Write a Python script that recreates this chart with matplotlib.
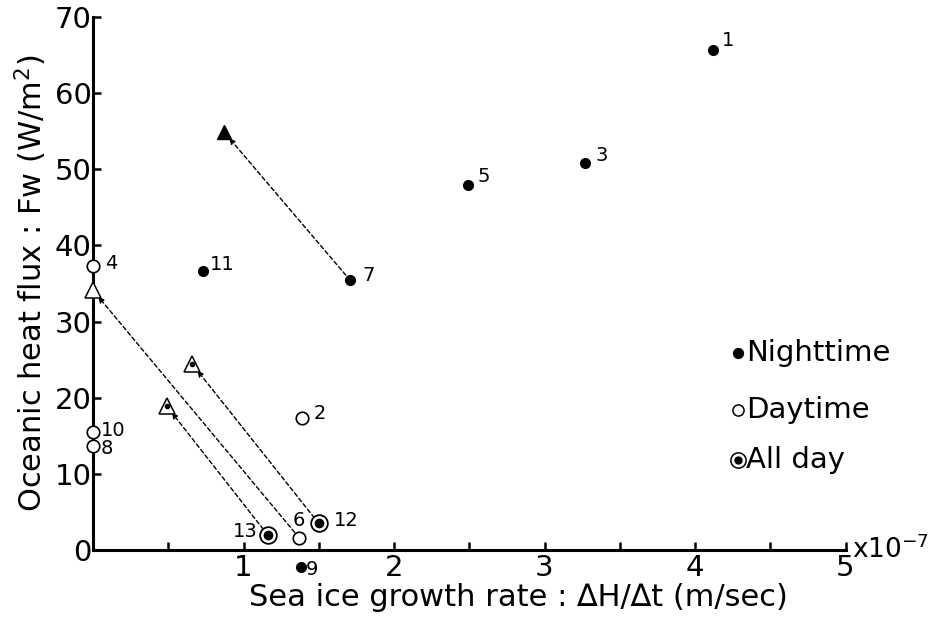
import matplotlib.pyplot as plt

# --- data (x in 1e-7 m/sec, y in W/m2) ---
night_x = [4.12, 3.27, 2.49, 1.71, 0.73, 1.38]
night_y = [65.7, 50.8, 48.0, 35.4, 36.6, -2.2]
night_id = ['1', '3', '5', '7', '11', '9']

day_x = [1.39, 0.0, 1.37, 0.0, 0.0]
day_y = [17.3, 37.3, 1.6, 13.7, 15.5]
day_id = ['2', '4', '6', '8', '10']

allday_x = [1.50, 1.16]
allday_y = [3.5, 2.0]
allday_id = ['12', '13']

# corrected points (triangles): filled <- 7, open <- 6, dotted <- 12, 13
tri_filled = (0.87, 54.9)
tri_open = (0.0, 34.1)
tri_dot_x = [0.66, 0.49]
tri_dot_y = [24.4, 18.9]

# arrows: start point -> triangle
arrow_from = [(1.71, 35.4), (1.37, 1.6), (1.50, 3.5), (1.16, 2.0)]
arrow_to = [tri_filled, tri_open, (0.66, 24.4), (0.49, 18.9)]

# label offsets in pixels (dx, dy, ha)
offs = {'1': (9, 9, 'left'), '3': (10, 8, 'left'), '5': (10, 8, 'left'),
        '7': (12, 5, 'left'), '11': (7, 7, 'left'), '4': (12, 2, 'left'),
        '2': (11, 5, 'left'), '10': (8, 1, 'left'), '8': (8, -3, 'left'),
        '13': (-10, 3, 'right'), '6': (0, 17, 'center'), '12': (15, 3, 'left'),
        '9': (5, -3, 'left')}

plt.rcParams['font.family'] = 'DejaVu Sans'

fig = plt.figure(figsize=(9.36, 6.17), dpi=100)
ax = fig.add_axes([93 / 936, 67 / 617, 752.5 / 936, 533 / 617])

# arrows
for (x0, y0), (x1, y1) in zip(arrow_from, arrow_to):
    ax.annotate('', xy=(x1, y1), xytext=(x0, y0),
                arrowprops=dict(arrowstyle='-|>', linestyle=(0, (3, 2)), lw=1,
                                color='black', shrinkA=5, shrinkB=6,
                                mutation_scale=8))

ax.plot(night_x, night_y, 'o', color='black', ms=7, clip_on=False, zorder=3)
ax.plot(day_x, day_y, 'o', mfc='white', mec='black', mew=1.2, ms=9,
        clip_on=False, zorder=3)
ax.plot(allday_x, allday_y, 'o', mfc='white', mec='black', mew=1.3, ms=12,
        clip_on=False, zorder=3)
ax.plot(allday_x, allday_y, 'o', color='black', ms=6, clip_on=False, zorder=4)

ax.plot(*tri_filled, '^', color='black', ms=10, clip_on=False, zorder=3)
ax.plot(*tri_open, '^', mfc='white', mec='black', mew=1.1, ms=11,
        clip_on=False, zorder=3)
ax.plot(tri_dot_x, tri_dot_y, '^', mfc='white', mec='black', mew=1.1, ms=11,
        clip_on=False, zorder=3)
ax.plot(tri_dot_x, tri_dot_y, 'o', color='black', ms=3, clip_on=False, zorder=4)

for xs, ys, ids in [(night_x, night_y, night_id), (day_x, day_y, day_id),
                    (allday_x, allday_y, allday_id)]:
    for x, y, s in zip(xs, ys, ids):
        dx, dy, ha = offs[s]
        ax.annotate(s, (x, y), xytext=(dx * 0.72, dy * 0.72),
                    textcoords='offset points', ha=ha, va='center',
                    fontsize=14, annotation_clip=False)

# legend written as text
leg = [('o', 'black', 'black', 7, 'Nighttime', 0.370),
       ('o', 'white', 'black', 8, 'Daytime', 0.263),
       ('o', 'white', 'black', 11, 'All day', 0.169)]
for m, fc, ec, ms, txt, yy in leg:
    ax.plot(0.857, yy, m, mfc=fc, mec=ec, ms=ms, mew=1.1,
            transform=ax.transAxes, clip_on=False)
    ax.text(0.868, yy, txt, transform=ax.transAxes, fontsize=21,
            va='center', ha='left')
ax.plot(0.857, 0.169, 'o', color='black', ms=5, transform=ax.transAxes,
        clip_on=False)

ax.set_xlim(0, 5)
ax.set_ylim(0, 70)
ax.set_xticks([0.5, 1, 1.5, 2, 2.5, 3, 3.5, 4, 4.5, 5])
ax.set_xticklabels(['', '1', '', '2', '', '3', '', '4', '', '5'])
ax.set_yticks(range(0, 71, 10))

for side in ['top', 'right']:
    ax.spines[side].set_visible(False)
for side in ['left', 'bottom']:
    ax.spines[side].set_linewidth(2.2)
ax.tick_params(direction='in', length=6, width=1.8, labelsize=21, pad=3)
ax.tick_params(axis='y', pad=1)

ax.text(1.008, 0, 'x10$^{-7}$', transform=ax.transAxes, fontsize=19,
        va='center', ha='left')

ax.set_xlabel('Sea ice growth rate : \u2206H/\u2206t (m/sec)', fontsize=22)
ax.xaxis.set_label_coords(0.565, -0.09)
ax.xaxis.label.set_va('center')
ax.set_ylabel('Oceanic heat flux : Fw (W/m$^2$)', fontsize=22, labelpad=4)

fig.savefig('out.png', dpi=100)
